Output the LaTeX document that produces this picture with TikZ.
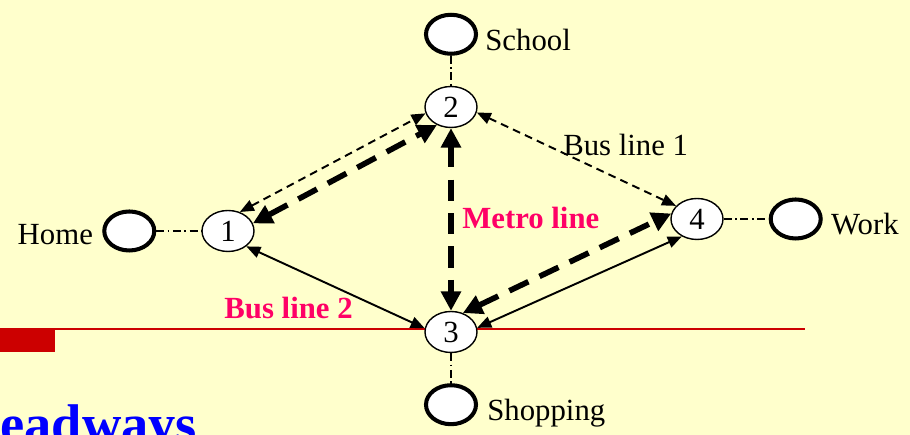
\documentclass[tikz,border=0pt]{standalone}
\usepackage{fontspec}
\setmainfont{Liberation Serif}
\usetikzlibrary{arrows.meta, positioning, shapes.geometric}
\definecolor{bgyellow}{HTML}{FFFFCC}
\definecolor{linered}{HTML}{CC0000}
\definecolor{labelpink}{HTML}{FF0066}
\definecolor{titleblue}{HTML}{0000FF}

\begin{document}
\begin{tikzpicture}[
stop/.style={ellipse, draw, fill=white, line width=0.8pt, minimum width=1.04cm, minimum height=0.82cm, inner sep=0pt, font=\fontsize{17.5}{20}\selectfont},
place/.style={ellipse, draw, fill=white, line width=2.3pt, minimum width=1.0cm, minimum height=0.78cm, inner sep=0pt},
placetext/.style={inner sep=0pt, font=\fontsize{17.5}{20}\selectfont},
linelabel/.style={inner sep=0pt, font=\fontsize{17.5}{20}\selectfont\bfseries, text=labelpink},
access/.style={line width=0.75pt, dash pattern=on 4.5pt off 2pt on 1pt off 2pt},
busdash/.style={{Triangle[length=8pt,width=6.5pt]}-{Triangle[length=8pt,width=6.5pt]}, line width=1.1pt, dash pattern=on 4.5pt off 3pt},
bussolid/.style={{Triangle[length=8pt,width=6.5pt]}-{Triangle[length=8pt,width=6.5pt]}, line width=1.1pt},
metro/.style={{Triangle[length=11pt,width=11pt]}-{Triangle[length=11pt,width=11pt]}, line width=3.2pt, dash pattern=on 12pt off 7pt}
]
\useasboundingbox (0,0) rectangle (18.2,8.7);
\fill[bgyellow] (0,0) rectangle (18.2,8.7);
\clip (0,0) rectangle (18.2,8.7);
\fill[linered] (0,1.66) rectangle (1.1,2.10);
\draw[linered, line width=1.1pt] (0,2.12) -- (16.1,2.12);
\node[anchor=base west, inner sep=0pt, font=\fontsize{31}{36}\selectfont\bfseries, text=titleblue] (title) at (0,-0.16) {eadways};

\node[stop] (n1) at (4.56,4.08) {1};
\node[stop] (n2) at (9.02,6.56) {2};
\node[stop] (n3) at (9.02,2.06) {3};
\node[stop] (n4) at (13.94,4.32) {4};

\node[place, above=0.6cm of n2] (school) {};
\node[place, below=0.6cm of n3] (shop) {};
\node[place, left=0.9cm of n1] (home) {};
\node[place, right=0.9cm of n4] (work) {};

\node[placetext, anchor=base west, xshift=0.14cm, yshift=-0.32cm] (schooltxt) at (school.east) {School};
\node[placetext, anchor=base west, xshift=0.18cm, yshift=-0.32cm] (shoptxt) at (shop.east) {Shopping};
\node[placetext, anchor=base east, xshift=-0.18cm, yshift=-0.28cm] (hometxt) at (home.west) {Home};
\node[placetext, anchor=base west, xshift=0.16cm, yshift=-0.32cm] (worktxt) at (work.east) {Work};

\node[placetext, anchor=west] (bus1) at (11.26,5.80) {Bus line 1};
\node[linelabel, anchor=west] (metrotxt) at (9.24,4.34) {Metro line};
\node[linelabel, anchor=east] (bus2) at (7.06,2.54) {Bus line 2};

\draw[access] (school) -- (n2);
\draw[access] (n3) -- (shop);
\draw[access] (home) -- (n1);
\draw[access] (n4) -- (work);

\draw[busdash] (n1.58) -- (n2.194);
\draw[busdash] (n2.-12) -- (n4.148);
\draw[bussolid] (n1.-40) -- (n3.172);
\draw[bussolid] (n3.9) -- (n4.229);
\draw[metro] (n1.17) -- (n2.232);
\draw[metro] (n2.south) -- (n3.north);
\draw[metro] (n3.58) -- (n4.168);
\end{tikzpicture}
\end{document}
